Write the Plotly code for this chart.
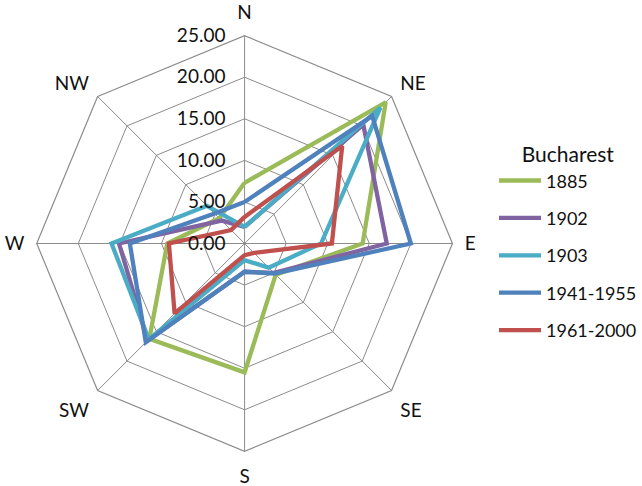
import plotly.graph_objects as go

# Wind direction frequency (%) for Bucharest, per observation period
directions = ["N", "NE", "E", "SE", "S", "SW", "W", "NW"]
series_names = ["1885", "1902", "1903", "1941-1955", "1961-2000"]
v1885 = [7.3, 24.0, 14.2, 5.3, 15.5, 16.2, 9.3, 4.3]
v1902 = [2.0, 20.2, 17.1, 5.0, 3.4, 16.5, 15.1, 3.9]
v1903 = [2.0, 23.1, 9.2, 4.1, 2.0, 16.3, 16.0, 6.4]
v1941_1955 = [5.0, 21.7, 20.0, 5.1, 3.4, 16.8, 13.8, 5.1]
v1961_2000 = [3.2, 16.6, 10.5, 1.6, 1.4, 11.9, 9.1, 2.3]
radial_ticks = [0, 5, 10, 15, 20, 25]

colors = ["#9BBB59", "#8064A2", "#4BACC6", "#4F81BD", "#C0504D"]
all_values = [v1885, v1902, v1903, v1941_1955, v1961_2000]

FONT = "Lato, Carlito, Calibri, sans-serif"
GRID = "#8C8C8C"
TXT = "#111111"

fig = go.Figure()
for name, vals, col in zip(series_names, all_values, colors):
    fig.add_trace(go.Scatterpolar(
        r=vals + vals[:1],
        theta=directions + directions[:1],
        mode="lines",
        name=name,
        legendgroup=name,
        line=dict(color=col, width=4.3, shape="linear"),
    ))

fig.update_layout(
    width=642,
    height=486,
    margin=dict(l=0, r=0, t=0, b=0),
    paper_bgcolor="white",
    plot_bgcolor="white",
    font=dict(family=FONT, size=18, color=TXT),
    polar=dict(
        domain=dict(x=[37 / 642, 456 / 642], y=[1 - 453 / 486, 1 - 34 / 486]),
        bgcolor="white",
        gridshape="linear",
        angularaxis=dict(
            rotation=90,
            direction="clockwise",
            categoryorder="array",
            categoryarray=directions,
            showline=True,
            linecolor=GRID,
            linewidth=1.2,
            gridcolor=GRID,
            gridwidth=1.2,
            ticks="outside",
            ticklen=8,
            tickcolor="rgba(0,0,0,0)",
            tickfont=dict(family=FONT, size=19, color=TXT),
        ),
        radialaxis=dict(
            range=[0, 25],
            tickvals=radial_ticks,
            tickformat=".2f",
            angle=90,
            tickangle=90,
            side="counterclockwise",
            showline=False,
            gridcolor=GRID,
            gridwidth=1.2,
            ticks="outside",
            ticklen=12,
            tickcolor="rgba(0,0,0,0)",
            tickfont=dict(family=FONT, size=19, color=TXT),
        ),
    ),
    legend=dict(
        title=dict(text="Bucharest", side="top center",
                   font=dict(family=FONT, size=21, color=TXT)),
        x=498 / 642,
        y=1 - 135 / 486,
        xanchor="left",
        yanchor="top",
        traceorder="grouped",
        tracegroupgap=11,
        itemwidth=42,
        font=dict(family=FONT, size=18, color=TXT),
        bgcolor="rgba(0,0,0,0)",
    ),
    showlegend=True,
)

fig.write_html("out.html")
